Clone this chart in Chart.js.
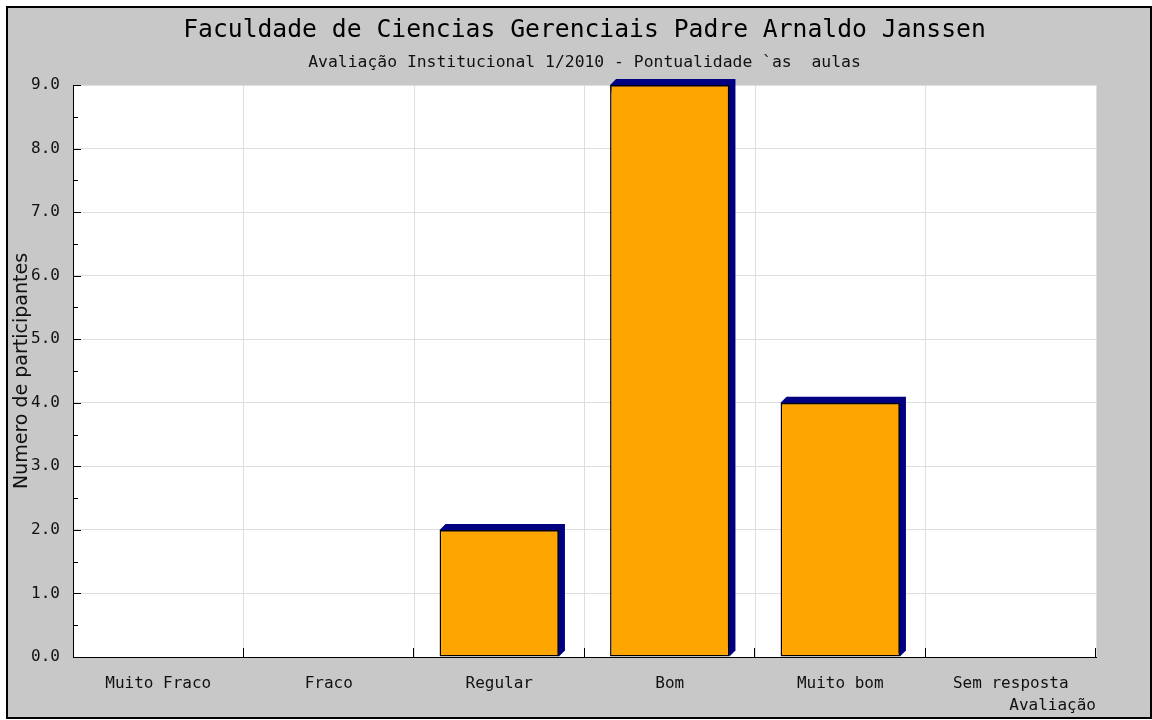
<!DOCTYPE html>
<html>
<head>
<meta charset="utf-8">
<script src="https://cdn.jsdelivr.net/npm/chart.js@4.4.0/dist/chart.umd.min.js"></script>
<style>
  html, body { margin: 0; background: #fff; }
</style>
</head>
<body>
<canvas id="grafico" width="1152" height="720"></canvas>
<script>
// dados do grafico
const categorias = ['Muito Fraco', 'Fraco', 'Regular', 'Bom', 'Muito bom', 'Sem resposta'];
const participantes = [0, 0, 2, 9, 4, 0];
const yMax = 9;
const yPasso = 1;
const yPassoMenor = 0.5;

const titulo = 'Faculdade de Ciencias Gerenciais Padre Arnaldo Janssen';
const subtitulo = 'Avaliação Institucional 1/2010 - Pontualidade `as  aulas';

const mono = "'DejaVu Sans Mono', 'Liberation Mono', monospace";

// fundo cinza, moldura e area branca
const fundo = {
    id: 'fundo',
    beforeDraw(chart) {
        const c = chart.ctx, a = chart.chartArea;
        c.save();
        c.fillStyle = '#fff';
        c.fillRect(0, 0, chart.width, chart.height);
        c.fillStyle = '#c8c8c8';
        c.fillRect(7, 7, 1144, 711);
        c.strokeStyle = '#000';
        c.lineWidth = 2;
        c.strokeRect(7, 7, 1144, 711);
        c.fillStyle = '#fff';
        c.fillRect(a.left, a.top, a.right - a.left, a.bottom - a.top);
        c.restore();
    },
    afterDraw(chart) {
        const c = chart.ctx, a = chart.chartArea;
        const cx = (a.left + a.right) / 2;
        c.save();
        c.fillStyle = '#000';
        c.textAlign = 'center';
        c.textBaseline = 'middle';
        c.font = '24.7px ' + mono;
        c.fillText(titulo, cx, 31);
        c.font = '16.4px ' + mono;
        c.fillStyle = '#111';
        c.fillText(subtitulo, cx, 63);
        c.restore();
    }
};

// sombra azul das barras (efeito 3D)
const sombra = {
    id: 'sombra',
    beforeDatasetsDraw(chart) {
        const c = chart.ctx;
        const d = 6;
        c.save();
        c.fillStyle = '#000080';
        chart.getDatasetMeta(0).data.forEach((bar, i) => {
            if (!participantes[i]) return;
            const p = bar.getProps(['x', 'y', 'base', 'width'], true);
            const L = p.x - p.width / 2, R = p.x + p.width / 2;
            c.beginPath();
            c.moveTo(L, p.y);
            c.lineTo(L + d, p.y - d);
            c.lineTo(R + d, p.y - d);
            c.lineTo(R + d, p.base - d);
            c.lineTo(R, p.base);
            c.closePath();
            c.fill();
        });
        c.restore();
    },
    afterDatasetsDraw(chart) {
        // marcas dos eixos para dentro
        const c = chart.ctx, a = chart.chartArea;
        const y = chart.scales.y, x = chart.scales.x;
        c.save();
        c.strokeStyle = '#000';
        c.lineWidth = 1;
        c.beginPath();
        for (let v = 0; v <= yMax + 1e-9; v += yPassoMenor) {
            const py = Math.round(y.getPixelForValue(v)) + 0.5;
            const len = Math.abs(v % yPasso) < 1e-9 ? 8 : 5;
            c.moveTo(a.left, py);
            c.lineTo(a.left + len, py);
        }
        const meia = (x.getPixelForValue(1) - x.getPixelForValue(0)) / 2;
        for (let i = 0; i < categorias.length; i++) {
            const px = Math.round(x.getPixelForValue(i) + meia) - 0.5;
            c.moveTo(px, a.bottom);
            c.lineTo(px, a.bottom - 9);
        }
        c.stroke();
        c.restore();
    }
};

new Chart(document.getElementById('grafico'), {
    type: 'bar',
    data: {
        labels: categorias,
        datasets: [{
            data: participantes,
            backgroundColor: '#ffa500',
            borderColor: '#000',
            borderWidth: 1.5,
            borderSkipped: false,
            categoryPercentage: 1,
            barPercentage: 0.7
        }]
    },
    options: {
        responsive: false,
        animation: false,
        layout: { padding: { left: 0, top: 85, right: 56, bottom: 0 } },
        plugins: {
            legend: { display: false },
            tooltip: { enabled: false }
        },
        scales: {
            x: {
                afterFit: s => { s.height = 63; },
                grid: { color: '#dedede', drawTicks: false, offset: true },
                border: { color: '#000', width: 1 },
                ticks: { color: '#111', padding: 17, font: { family: mono, size: 16 } },
                title: {
                    display: true,
                    text: 'Avaliação',
                    align: 'end',
                    color: '#111',
                    padding: { top: 0, bottom: 5 },
                    font: { family: mono, size: 16 }
                }
            },
            y: {
                min: 0,
                max: yMax,
                afterFit: s => { s.width = 73; },
                grid: { color: '#dedede', drawTicks: false },
                border: { color: '#000', width: 1 },
                ticks: {
                    stepSize: yPasso,
                    padding: 13,
                    color: '#111',
                    font: { family: mono, size: 16 },
                    callback: v => Number(v).toFixed(1)
                },
                title: {
                    display: true,
                    text: 'Numero de participantes',
                    color: '#111',
                    padding: { top: 11, bottom: 0 },
                    font: { family: "'DejaVu Sans', sans-serif", size: 19 }
                }
            }
        }
    },
    plugins: [fundo, sombra]
});
</script>
</body>
</html>
